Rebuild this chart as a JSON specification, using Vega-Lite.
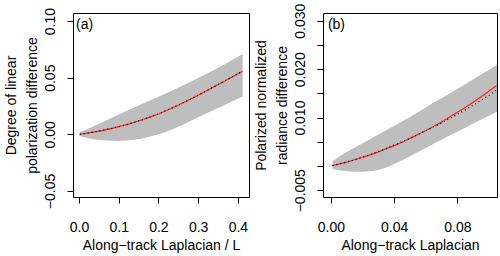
{
  "$schema": "https://vega.github.io/schema/vega-lite/v6.json",
  "padding": {"left": 3, "top": 2, "right": 4, "bottom": 2},
  "background": "white",
  "bounds": "flush",
  "spacing": 74,
  "config": {
    "font": "Liberation Sans",
    "view": {"stroke": "black", "strokeWidth": 1},
    "axis": {
      "labelFont": "Liberation Sans", "titleFont": "Liberation Sans",
      "labelFontSize": 14, "titleFontSize": 14, "titleFontWeight": "normal",
      "labelColor": "black", "titleColor": "black", "tickColor": "black",
      "tickSize": 6, "tickWidth": 1, "domain": false, "grid": false,
      "labelOverlap": false, "labelBound": false, "labelFlush": false
    },
    "axisX": {"labelPadding": 17, "titlePadding": 4},
    "axisY": {"labelAngle": -90, "labelPadding": 10, "titlePadding": 4, "titleLineHeight": 21}
  },
  "datasets": {
    "a": [
      {"x": 0.002, "lo": -0.0015, "mean": 0.0001, "hi": 0.0020},
      {"x": 0.02, "lo": -0.0033, "mean": 0.0010, "hi": 0.0045},
      {"x": 0.04, "lo": -0.0045, "mean": 0.0022, "hi": 0.0075},
      {"x": 0.06, "lo": -0.0053, "mean": 0.0035, "hi": 0.0108},
      {"x": 0.08, "lo": -0.0057, "mean": 0.0050, "hi": 0.0142},
      {"x": 0.10, "lo": -0.0058, "mean": 0.0068, "hi": 0.0175},
      {"x": 0.12, "lo": -0.0055, "mean": 0.0086, "hi": 0.0207},
      {"x": 0.14, "lo": -0.0048, "mean": 0.0107, "hi": 0.0239},
      {"x": 0.16, "lo": -0.0036, "mean": 0.0130, "hi": 0.0270},
      {"x": 0.18, "lo": -0.0020, "mean": 0.0154, "hi": 0.0301},
      {"x": 0.20, "lo": 0.0000, "mean": 0.0180, "hi": 0.0332},
      {"x": 0.22, "lo": 0.0024, "mean": 0.0210, "hi": 0.0363},
      {"x": 0.24, "lo": 0.0052, "mean": 0.0242, "hi": 0.0395},
      {"x": 0.26, "lo": 0.0083, "mean": 0.0275, "hi": 0.0428},
      {"x": 0.28, "lo": 0.0116, "mean": 0.0309, "hi": 0.0462},
      {"x": 0.30, "lo": 0.0150, "mean": 0.0345, "hi": 0.0497},
      {"x": 0.32, "lo": 0.0183, "mean": 0.0382, "hi": 0.0532},
      {"x": 0.34, "lo": 0.0216, "mean": 0.0420, "hi": 0.0568},
      {"x": 0.36, "lo": 0.0249, "mean": 0.0458, "hi": 0.0606},
      {"x": 0.38, "lo": 0.0282, "mean": 0.0496, "hi": 0.0645},
      {"x": 0.40, "lo": 0.0315, "mean": 0.0534, "hi": 0.0685},
      {"x": 0.412, "lo": 0.0335, "mean": 0.0557, "hi": 0.0710}
    ],
    "b": [
      {"x": 0.001, "lo": -0.0006, "mean": 0.0001, "dot": 0.0001, "hi": 0.0010},
      {"x": 0.005, "lo": -0.0009, "mean": 0.0004, "dot": 0.0004, "hi": 0.0019},
      {"x": 0.010, "lo": -0.0011, "mean": 0.0008, "dot": 0.0008, "hi": 0.0029},
      {"x": 0.015, "lo": -0.0012, "mean": 0.0013, "dot": 0.0013, "hi": 0.0038},
      {"x": 0.020, "lo": -0.0012, "mean": 0.0018, "dot": 0.0018, "hi": 0.0047},
      {"x": 0.025, "lo": -0.0011, "mean": 0.0023, "dot": 0.0024, "hi": 0.0056},
      {"x": 0.030, "lo": -0.0008, "mean": 0.0029, "dot": 0.0030, "hi": 0.0065},
      {"x": 0.035, "lo": -0.0003, "mean": 0.0036, "dot": 0.0036, "hi": 0.0074},
      {"x": 0.040, "lo": 0.0004, "mean": 0.0042, "dot": 0.0043, "hi": 0.0083},
      {"x": 0.045, "lo": 0.0012, "mean": 0.0049, "dot": 0.0050, "hi": 0.0092},
      {"x": 0.050, "lo": 0.0020, "mean": 0.0057, "dot": 0.0057, "hi": 0.0101},
      {"x": 0.055, "lo": 0.0029, "mean": 0.0065, "dot": 0.0065, "hi": 0.0111},
      {"x": 0.060, "lo": 0.0037, "mean": 0.0073, "dot": 0.0073, "hi": 0.0121},
      {"x": 0.065, "lo": 0.0046, "mean": 0.0082, "dot": 0.0081, "hi": 0.0131},
      {"x": 0.070, "lo": 0.0054, "mean": 0.0091, "dot": 0.0089, "hi": 0.0140},
      {"x": 0.075, "lo": 0.0063, "mean": 0.0101, "dot": 0.0098, "hi": 0.0150},
      {"x": 0.080, "lo": 0.0071, "mean": 0.0111, "dot": 0.0107, "hi": 0.0159},
      {"x": 0.085, "lo": 0.0079, "mean": 0.0121, "dot": 0.0116, "hi": 0.0169},
      {"x": 0.090, "lo": 0.0088, "mean": 0.0132, "dot": 0.0126, "hi": 0.0179},
      {"x": 0.095, "lo": 0.0096, "mean": 0.0143, "dot": 0.0136, "hi": 0.0189},
      {"x": 0.100, "lo": 0.0104, "mean": 0.0155, "dot": 0.0146, "hi": 0.0199},
      {"x": 0.105, "lo": 0.0112, "mean": 0.0167, "dot": 0.0157, "hi": 0.0209}
    ],
    "panelA": [{"label": "(a)"}],
    "panelB": [{"label": "(b)"}]
  },
  "hconcat": [
    {
      "width": 176, "height": 184,
      "layer": [
        {
          "data": {"name": "a"},
          "mark": {"type": "area", "color": "#BEBEBE", "opacity": 1, "clip": true},
          "encoding": {
            "x": {"field": "x", "type": "quantitative",
              "scale": {"domain": [-0.015, 0.428], "nice": false, "zero": false},
              "axis": {"title": "Along−track Laplacian / L", "values": [0, 0.1, 0.2, 0.3, 0.4], "format": ".1f", "labelOverlap": false}},
            "y": {"field": "lo", "type": "quantitative",
              "scale": {"domain": [-0.0553, 0.1071], "nice": false, "zero": false},
              "axis": {"title": ["Degree of linear", "polarization difference"], "values": [-0.05, 0, 0.05, 0.1], "format": ".2f", "labelOverlap": false}},
            "y2": {"field": "hi"}
          }
        },
        {
          "data": {"name": "a"},
          "mark": {"type": "line", "color": "#FF2020", "strokeWidth": 1.2, "clip": true},
          "encoding": {
            "x": {"field": "x", "type": "quantitative"},
            "y": {"field": "mean", "type": "quantitative"}
          }
        },
        {
          "data": {"name": "a"},
          "mark": {"type": "line", "color": "black", "strokeWidth": 1.3, "strokeDash": [1, 3], "clip": true},
          "encoding": {
            "x": {"field": "x", "type": "quantitative"},
            "y": {"field": "mean", "type": "quantitative"}
          }
        },
        {
          "data": {"name": "panelA"},
          "mark": {"type": "text", "align": "left", "baseline": "alphabetic", "fontSize": 14, "fontWeight": "normal", "font": "Liberation Sans", "color": "black"},
          "encoding": {
            "x": {"datum": -0.0075, "type": "quantitative"},
            "y": {"datum": 0.0927, "type": "quantitative"},
            "text": {"field": "label"}
          }
        }
      ]
    },
    {
      "width": 174, "height": 184,
      "resolve": {"axis": {"y": "independent"}},
      "layer": [
        {
          "data": {"name": "b"},
          "mark": {"type": "area", "color": "#BEBEBE", "opacity": 1, "clip": true},
          "encoding": {
            "x": {"field": "x", "type": "quantitative",
              "scale": {"domain": [-0.005, 0.105], "nice": false, "zero": false},
              "axis": {"title": "Along−track Laplacian", "values": [0, 0.02, 0.04, 0.06, 0.08, 0.1], "format": ".2f", "labelOverlap": false,
                "labelExpr": "(datum.value < 0.01 || (datum.value > 0.03 && datum.value < 0.05) || (datum.value > 0.07 && datum.value < 0.09)) ? datum.label : ''"}},
            "y": {"field": "lo", "type": "quantitative",
              "scale": {"domain": [-0.0064, 0.0316], "nice": false, "zero": false},
              "axis": {"title": ["Polarized normalized", "radiance difference"], "labelOverlap": false, "orient": "left",
                "values": [-0.005, 0.01, 0.02, 0.03], "format": ".3f"}},
            "y2": {"field": "hi"}
          }
        },
        {
          "data": {"name": "b"},
          "mark": {"type": "line", "color": "#FF2020", "strokeWidth": 1.2, "clip": true},
          "encoding": {
            "x": {"field": "x", "type": "quantitative"},
            "y": {"field": "mean", "type": "quantitative",
              "axis": {"orient": "left", "title": null, "labels": false, "domain": false, "ticks": true,
                "values": [-0.005, 0, 0.005, 0.01, 0.015, 0.02, 0.025, 0.03]}}
          }
        },
        {
          "data": {"name": "b"},
          "mark": {"type": "line", "color": "black", "strokeWidth": 1.3, "strokeDash": [1, 3], "clip": true},
          "encoding": {
            "x": {"field": "x", "type": "quantitative"},
            "y": {"field": "dot", "type": "quantitative", "axis": null}
          }
        },
        {
          "data": {"name": "panelB"},
          "mark": {"type": "text", "align": "left", "baseline": "alphabetic", "fontSize": 14, "fontWeight": "normal", "font": "Liberation Sans", "color": "black"},
          "encoding": {
            "x": {"datum": -0.0019, "type": "quantitative"},
            "y": {"datum": 0.0283, "type": "quantitative", "axis": null},
            "text": {"field": "label"}
          }
        }
      ]
    }
  ]
}
